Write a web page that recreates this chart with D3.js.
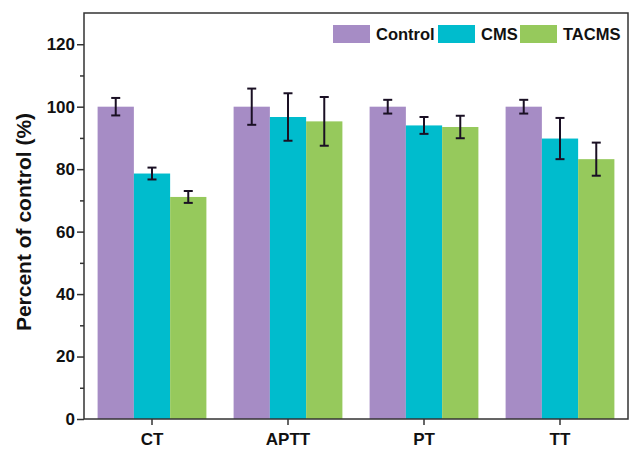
<!DOCTYPE html>
<html>
<head>
<meta charset="utf-8">
<script src="https://cdn.jsdelivr.net/npm/d3@7"></script>
<style>
  body { margin: 0; background: #fff; }
  svg { font-family: "Liberation Sans", Arial, sans-serif; }
</style>
</head>
<body>
<div id="chart"></div>
<script>
// data
var assays = ["CT", "APTT", "PT", "TT"];
var groups = ["Control", "CMS", "TACMS"];
var controlVals = [100, 100, 100, 100];
var controlErr  = [2.8, 5.8, 2.2, 2.2];
var cmsVals     = [78.6, 96.7, 94.0, 89.8];
var cmsErr      = [1.9, 7.6, 2.7, 6.6];
var tacmsVals   = [71.1, 95.3, 93.5, 83.2];
var tacmsErr    = [1.9, 7.8, 3.6, 5.3];
var yTicks = [0, 20, 40, 60, 80, 100, 120];
var colors = ["#a68cc5", "#00bccd", "#96c95c"];

var width = 632, height = 449;
var margin = {top: 13, right: 4, bottom: 30, left: 84};

var seriesVals = [controlVals, cmsVals, tacmsVals];
var seriesErr = [controlErr, cmsErr, tacmsErr];
var table = [];
assays.forEach(function(a, i) {
  groups.forEach(function(g, j) {
    table.push({assay: a, group: g, value: seriesVals[j][i], err: seriesErr[j][i], color: colors[j]});
  });
});

var svg = d3.select("#chart").append("svg")
    .attr("width", width)
    .attr("height", height);

var x0 = d3.scaleBand()
    .domain(assays)
    .range([margin.left, width - margin.right])
    .paddingInner(0).paddingOuter(0);

var x1 = d3.scaleBand()
    .domain(groups)
    .range([x0.bandwidth() * 0.1, x0.bandwidth() * 0.9])
    .padding(0);

var y = d3.scaleLinear()
    .domain([0, 130])
    .range([height - margin.bottom, margin.top]);

// bars
svg.append("g").selectAll("rect")
  .data(table)
  .enter()
  .append("rect")
    .attr("x", function(d) { return x0(d.assay) + x1(d.group); })
    .attr("y", function(d) { return y(d.value); })
    .attr("width", x1.bandwidth())
    .attr("height", function(d) { return y(0) - y(d.value); })
    .attr("fill", function(d) { return d.color; });

// error bars
var eb = svg.append("g").attr("stroke", "#1a1024").attr("stroke-width", 2);
table.forEach(function(d) {
  var cx = x0(d.assay) + x1(d.group) + x1.bandwidth() / 2;
  eb.append("line")
    .attr("x1", cx).attr("x2", cx)
    .attr("y1", y(d.value + d.err)).attr("y2", y(d.value - d.err));
  [d.value + d.err, d.value - d.err].forEach(function(v) {
    eb.append("line")
      .attr("x1", cx - 4.5).attr("x2", cx + 4.5)
      .attr("y1", y(v)).attr("y2", y(v));
  });
});

// y axis: major and minor ticks
var yAxis = svg.append("g")
    .attr("transform", "translate(" + margin.left + ",0)")
    .call(d3.axisLeft(y).tickValues(yTicks).tickSize(7).tickPadding(2));
yAxis.select(".domain").remove();
yAxis.selectAll(".tick line").attr("stroke", "#333").attr("stroke-width", 1.5);
yAxis.selectAll(".tick text")
    .style("font-size", "17px").style("font-weight", "bold").attr("fill", "#111");

var yMinor = svg.append("g")
    .attr("transform", "translate(" + margin.left + ",0)")
    .call(d3.axisLeft(y).tickValues([10, 30, 50, 70, 90, 110]).tickSize(4).tickFormat(""));
yMinor.select(".domain").remove();
yMinor.selectAll(".tick line").attr("stroke", "#333").attr("stroke-width", 1.5);

// x axis
var xAxis = svg.append("g")
    .attr("transform", "translate(0," + y(0) + ")")
    .call(d3.axisBottom(x0).tickSize(6).tickPadding(8));
xAxis.select(".domain").remove();
xAxis.selectAll(".tick line").attr("stroke", "#333").attr("stroke-width", 1.5);
xAxis.selectAll(".tick text")
    .style("font-size", "17px").style("font-weight", "bold").attr("fill", "#111");

// frame
svg.append("rect")
    .attr("x", margin.left)
    .attr("y", margin.top)
    .attr("width", width - margin.left - margin.right)
    .attr("height", y(0) - margin.top)
    .attr("fill", "none")
    .attr("stroke", "#333")
    .attr("stroke-width", 1.5);

// y label
svg.append("text")
    .attr("transform", "translate(31,222) rotate(-90)")
    .style("text-anchor", "middle")
    .style("font-size", "21px")
    .style("font-weight", "bold")
    .attr("fill", "#111")
    .text("Percent of control (%)");

// legend
var legendX = [333, 438, 520];
var legend = svg.append("g");
groups.forEach(function(g, j) {
  legend.append("rect")
    .attr("x", legendX[j]).attr("y", 25)
    .attr("width", 37).attr("height", 18)
    .attr("fill", colors[j]);
  legend.append("text")
    .attr("x", legendX[j] + 43).attr("y", 40)
    .style("font-size", "16.5px").style("font-weight", "bold")
    .attr("fill", "#111")
    .text(g);
});
</script>
</body>
</html>
